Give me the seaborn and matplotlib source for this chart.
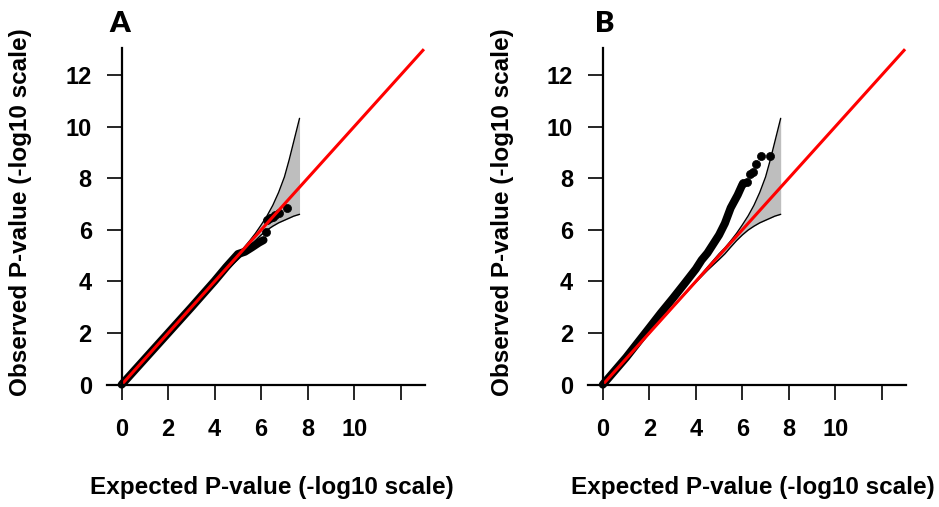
import matplotlib
matplotlib.use("Agg")
import matplotlib.pyplot as plt
import seaborn as sns

# ---------------- data ----------------
# diagonal reference line
diag = [0, 13]

# confidence band (shared by both panels)
band_x = [0, 1, 2, 3, 4, 4.5, 5.0, 5.25, 5.5, 5.75, 6.0, 6.25, 6.5, 6.75, 7.0, 7.2, 7.4, 7.65]
band_hi = [0, 1.0, 2.0, 3.0, 4.02, 4.55, 5.07, 5.3, 5.57, 5.86, 6.19, 6.54, 6.95, 7.45, 8.05, 8.70, 9.42, 10.32]
band_lo = [0, 1.0, 2.0, 2.99, 3.97, 4.43, 4.85, 5.07, 5.33, 5.58, 5.80, 5.99, 6.14, 6.27, 6.37, 6.45, 6.53, 6.60]

# panel A: dense run of points and sparse tail
expA_dense = [0, 1, 2, 3, 4, 4.5, 5.0, 5.3, 5.6, 5.9, 6.1]
obsA_dense = [0, 1, 2, 3, 4.02, 4.56, 5.06, 5.15, 5.32, 5.50, 5.60]
expA_tail = [6.21, 6.26, 6.38, 6.52, 6.59, 6.78, 7.12]
obsA_tail = [5.93, 6.38, 6.45, 6.51, 6.57, 6.64, 6.83]

# panel B: dense run of points and sparse tail
expB_dense = [0, 1, 2, 2.5, 3, 3.5, 4, 4.25, 4.5, 5.0, 5.25, 5.5, 5.8, 6.0]
obsB_dense = [0, 1.05, 2.2, 2.78, 3.33, 3.9, 4.48, 4.83, 5.1, 5.8, 6.25, 6.85, 7.35, 7.75]
expB_tail = [6.04, 6.19, 6.33, 6.44, 6.57, 6.79, 7.17]
obsB_tail = [7.83, 7.87, 8.16, 8.25, 8.55, 8.86, 8.86]

panel_labels = ["A", "B"]
x_ticks = [0, 2, 4, 6, 8, 10, 12]
x_ticklabels = ["0", "2", "4", "6", "8", "10", ""]
y_ticks = [0, 2, 4, 6, 8, 10, 12]
y_ticklabels = ["0", "2", "4", "6", "8", "10", "12"]
xlabel = "Expected P-value (-log10 scale)"
ylabel = "Observed P-value (-log10 scale)"

# ---------------- styling ----------------
sns.set_style("ticks")
plt.rcParams["font.family"] = ["Liberation Sans", "DejaVu Sans"]
plt.rcParams["font.weight"] = "bold"
for k in ("text.color", "axes.labelcolor", "xtick.color", "ytick.color"):
    plt.rcParams[k] = "black"

fig = plt.figure(figsize=(9.39, 5.07), dpi=100)
axA = fig.add_axes([0.1135, 0.2414, 0.3392, 0.6641])
axB = fig.add_axes([0.6259, 0.2414, 0.3392, 0.6641])

panels = [
    (axA, expA_dense, obsA_dense, expA_tail, obsA_tail, panel_labels[0], 120),
    (axB, expB_dense, obsB_dense, expB_tail, obsB_tail, panel_labels[1], 605),
]

for ax, ed, od, et, ot, lab, lab_x in panels:
    # confidence band
    ax.fill_between(band_x, band_lo, band_hi, color="#BEBEBE", lw=0, zorder=1)
    sns.lineplot(x=band_x, y=band_hi, ax=ax, color="black", lw=1.0, zorder=2,
                 sort=False, estimator=None)
    sns.lineplot(x=band_x, y=band_lo, ax=ax, color="black", lw=1.0, zorder=2,
                 sort=False, estimator=None)
    # dense points as a thick run
    sns.lineplot(x=ed, y=od, ax=ax, color="black", lw=5.8, zorder=3,
                 sort=False, estimator=None)
    l = ax.lines[-1]
    l.set_solid_capstyle("round")
    l.set_solid_joinstyle("round")
    l.set_clip_on(False)
    # tail points
    sns.scatterplot(x=et, y=ot, ax=ax, color="black", s=34, edgecolor="black",
                    linewidth=0.5, zorder=4, clip_on=False)
    # red diagonal
    sns.lineplot(x=diag, y=diag, ax=ax, color="#FF0000", lw=2.2, zorder=5,
                 estimator=None)
    ax.lines[-1].set_clip_on(False)
    ax.lines[-1].set_solid_capstyle("butt")

    ax.set_xlim(-0.65, 13.05)
    ax.set_ylim(0, 13.05)
    ax.spines["top"].set_visible(False)
    ax.spines["right"].set_visible(False)
    ax.spines["left"].set_position(("data", 0))
    ax.spines["left"].set_bounds(0, 13.05)
    ax.spines["bottom"].set_bounds(-0.63, 13.05)
    for s in ("left", "bottom"):
        ax.spines[s].set_linewidth(1.6)
        ax.spines[s].set_color("black")
        ax.spines[s].set_zorder(6)

    ax.set_xticks(x_ticks)
    ax.set_xticklabels(x_ticklabels)
    ax.set_yticks(y_ticks)
    ax.set_yticklabels(y_ticklabels)
    ax.tick_params(axis="x", direction="out", length=11, width=1.2, pad=13,
                   labelsize=17, colors="black")
    ax.tick_params(axis="y", direction="out", length=11, width=1.2, pad=10.5,
                   labelsize=17, colors="black")
    for t in ax.get_xticklabels() + ax.get_yticklabels():
        t.set_fontweight("bold")

    ax.set_xlabel(xlabel, fontsize=17.5, fontweight="bold", color="black")
    ax.set_ylabel(ylabel, fontsize=17.5, fontweight="bold", color="black")
    ax.xaxis.label.set_verticalalignment("center")
    ax.yaxis.label.set_verticalalignment("center")
    ax.xaxis.set_label_coords(0.519, -0.307)
    ax.yaxis.set_label_coords(-0.269, 0.513)

    fig.text(lab_x / 939, 1 - 32 / 507, lab, fontsize=21, fontweight="heavy",
             family=["Lato", "DejaVu Sans"], ha="center", va="baseline",
             color="black")

fig.savefig("out.png", dpi=100)
